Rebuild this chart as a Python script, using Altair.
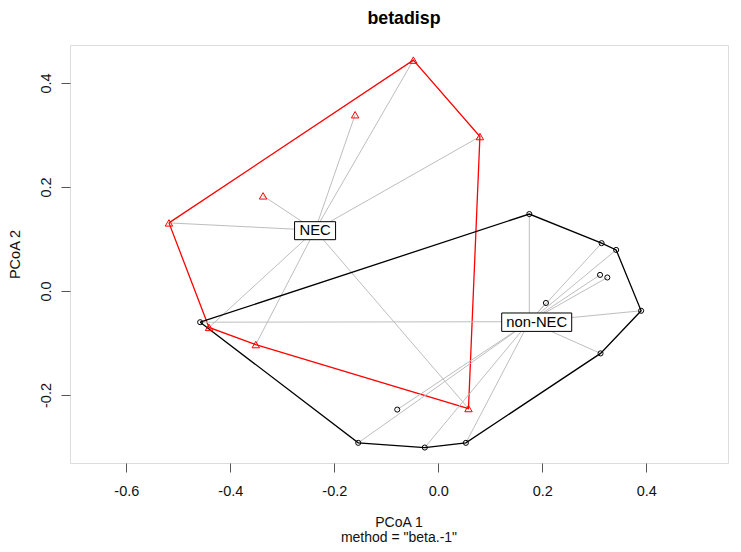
import altair as alt
import pandas as pd

# ---- data ----
groups = ["NEC", "non-NEC"]
nec_x = [-0.048, -0.160, 0.080, -0.337, -0.518, -0.441, -0.351, 0.058]
nec_y = [0.444, 0.339, 0.297, 0.183, 0.131, -0.070, -0.103, -0.226]
non_x = [0.175, 0.314, 0.342, 0.311, 0.325, 0.207, 0.390, -0.458, 0.312, -0.079, -0.154, -0.026, 0.053]
non_y = [0.148, 0.092, 0.079, 0.031, 0.026, -0.023, -0.038, -0.060, -0.120, -0.228, -0.292, -0.301, -0.292]
cent_x = [-0.237, 0.175]
cent_y = [0.117, -0.059]
x_ticks = [-0.6, -0.4, -0.2, 0.0, 0.2, 0.4]
y_ticks = [-0.2, 0.0, 0.2, 0.4]
title_text = ["betadisp"]
x_title_lines = ["PCoA 1", 'method = "beta.-1"']
y_title = "PCoA 2"


def convex_hull(pts):
    pts = sorted(set(pts))
    if len(pts) <= 2:
        return pts

    def cross(o, a, b):
        return (a[0] - o[0]) * (b[1] - o[1]) - (a[1] - o[1]) * (b[0] - o[0])

    lower, upper = [], []
    for p in pts:
        while len(lower) >= 2 and cross(lower[-2], lower[-1], p) <= 0:
            lower.pop()
        lower.append(p)
    for p in reversed(pts):
        while len(upper) >= 2 and cross(upper[-2], upper[-1], p) <= 0:
            upper.pop()
        upper.append(p)
    return lower[:-1] + upper[:-1]


group_pts = {
    "NEC": list(zip(nec_x, nec_y)),
    "non-NEC": list(zip(non_x, non_y)),
}

pts_rows, seg_rows, hull_rows = [], [], []
for gi, g in enumerate(groups):
    cx, cy = cent_x[gi], cent_y[gi]
    for (x, y) in group_pts[g]:
        pts_rows.append({"group": g, "x": x, "y": y})
        seg_rows.append({"group": g, "x": x, "y": y, "cx": cx, "cy": cy})
    hull = convex_hull(group_pts[g])
    hull = hull + [hull[0]]
    for k, (x, y) in enumerate(hull):
        hull_rows.append({"group": g, "x": x, "y": y, "order": k})

pts_df = pd.DataFrame(pts_rows)
seg_df = pd.DataFrame(seg_rows)
hull_df = pd.DataFrame(hull_rows)
cent_df = pd.DataFrame({"group": groups, "cx": cent_x, "cy": cent_y})

FONT = "Liberation Sans"
W, H = 658, 418
xs = alt.Scale(domain=[-0.7083, -0.7083 + W / 520], nice=False, zero=False)
ys = alt.Scale(domain=[0.4731 - H / 520, 0.4731], nice=False, zero=False)

label_expr = "datum.value < 0 ? '-' + format(abs(datum.value), '.1f') : format(datum.value, '.1f')"

xaxis = alt.Axis(
    values=x_ticks, labelExpr=label_expr, grid=False, domain=False,
    tickSize=9, tickColor="#555555", tickWidth=1,
    labelFont=FONT, labelFontSize=14.5, labelColor="#111111",
    labelBaseline="middle", labelPadding=19.5, labelFlush=False, labelOverlap=False,
    title=None,
)
yaxis = alt.Axis(
    values=y_ticks, labelExpr=label_expr, grid=False, domain=False,
    tickSize=9, tickColor="#555555", tickWidth=1,
    labelFont=FONT, labelFontSize=14.5, labelColor="#111111",
    labelAngle=270, labelAlign="center", labelBaseline="middle",
    labelPadding=14.5, labelFlush=False, labelOverlap=False,
    title=y_title, titleFont=FONT, titleFontSize=14.5, titleFontWeight="normal",
    titleColor="#111111", titleAngle=270, titleAlign="center", titleBaseline="alphabetic",
    titleX=-51, titleY=H / 2,
)


def X(field):
    return alt.X(f"{field}:Q", scale=xs, axis=xaxis)


def Y(field):
    return alt.Y(f"{field}:Q", scale=ys, axis=yaxis)


layers = []
hull_colors = {"NEC": "#FF0000", "non-NEC": "#000000"}
for g in groups:
    layers.append(
        alt.Chart(seg_df).transform_filter(alt.datum.group == g)
        .mark_rule(color="#BEBEBE", strokeWidth=1)
        .encode(x=X("x"), y=Y("y"), x2="cx:Q", y2="cy:Q")
    )
    layers.append(
        alt.Chart(hull_df).transform_filter(alt.datum.group == g)
        .mark_line(color=hull_colors[g], strokeWidth=1.3)
        .encode(x=X("x"), y=Y("y"), order="order:Q")
    )

# label boxes (half widths / heights in px, plus a small horizontal shift)
box_style = {"NEC": (20.5, 9, 0), "non-NEC": (35, 9.2, 7.4)}
for g in groups:
    hw, hh, dx = box_style[g]
    layers.append(
        alt.Chart(cent_df).transform_filter(alt.datum.group == g)
        .mark_rect(fill="white", stroke="black", strokeWidth=1,
                   xOffset=-hw + dx, x2Offset=hw + dx, yOffset=-hh + 0.5, y2Offset=hh + 0.5)
        .encode(x=X("cx"), y=Y("cy"), x2="cx:Q", y2="cy:Q")
    )
    layers.append(
        alt.Chart(cent_df).transform_filter(alt.datum.group == g)
        .mark_text(font=FONT, fontSize=14.8, color="black", baseline="middle",
                   align="center", dx=dx, dy=1)
        .encode(x=X("cx"), y=Y("cy"), text="group:N")
    )

layers.append(
    alt.Chart(pts_df).transform_filter(alt.datum.group == "NEC")
    .mark_point(shape="triangle-up", size=55, color="#FF0000", strokeWidth=1, filled=False, opacity=1)
    .encode(x=X("x"), y=Y("y"))
)
layers.append(
    alt.Chart(pts_df).transform_filter(alt.datum.group == "non-NEC")
    .mark_point(shape="circle", size=26, color="#000000", strokeWidth=1, filled=False, opacity=1)
    .encode(x=X("x"), y=Y("y"))
)

# title and x-axis title lines as text
layers.append(
    alt.Chart(pd.DataFrame({"t": title_text}))
    .mark_text(font=FONT, fontSize=17.8, fontWeight="bold", color="black",
               baseline="alphabetic", align="center")
    .encode(x=alt.value(W / 2 + 5), y=alt.value(-21), text="t:N")
)
layers.append(
    alt.Chart(pd.DataFrame({"t": [x_title_lines[0]]}))
    .mark_text(font=FONT, fontSize=14, color="#111111", baseline="alphabetic", align="center")
    .encode(x=alt.value(W / 2), y=alt.value(H + 64), text="t:N")
)
layers.append(
    alt.Chart(pd.DataFrame({"t": [x_title_lines[1]]}))
    .mark_text(font=FONT, fontSize=14, color="#111111", baseline="alphabetic", align="center")
    .encode(x=alt.value(W / 2), y=alt.value(H + 78.5), text="t:N")
)

chart = alt.layer(*layers).properties(
    width=W, height=H,
    autosize=alt.AutoSizeParams(type="none"),
    padding={"left": 62, "top": 37, "right": 5, "bottom": 81},
).configure_view(stroke="#555555", strokeWidth=1).configure(background="white")

chart.save("out.html", embed_options={"renderer": "svg", "actions": False})
